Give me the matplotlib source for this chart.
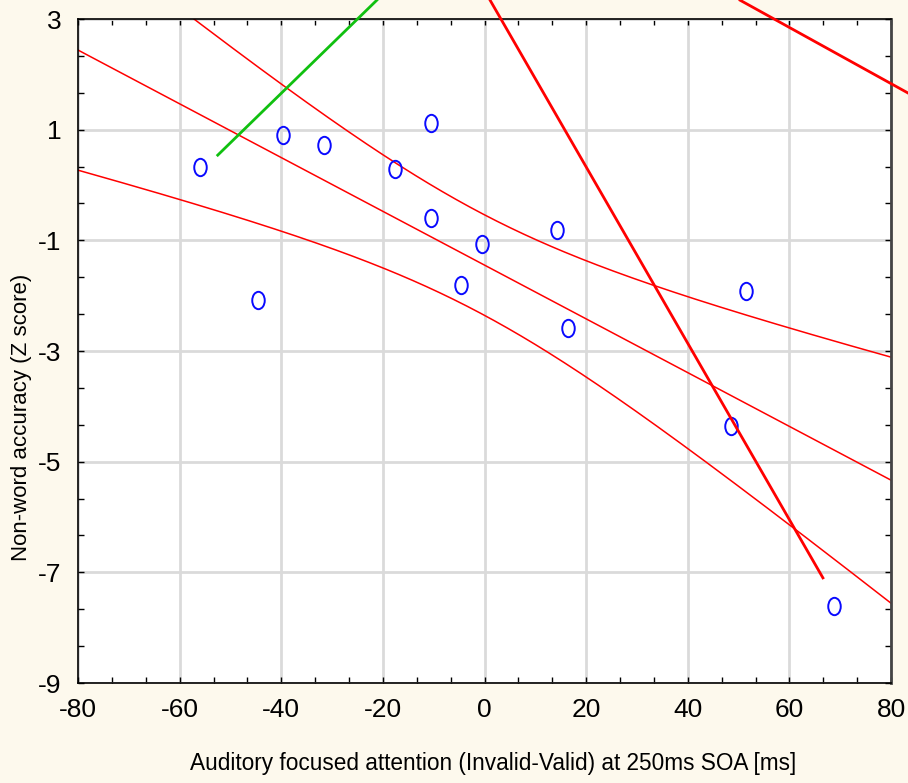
import numpy as np
import matplotlib
matplotlib.use("Agg")
import matplotlib.pyplot as plt
from matplotlib.path import Path
from matplotlib.transforms import Affine2D
from matplotlib.ticker import MultipleLocator, FixedLocator

plt.rcParams['font.family'] = ['Liberation Sans Narrow', 'Liberation Sans', 'DejaVu Sans']
plt.rcParams['axes.unicode_minus'] = False

# data
attention_ms = [-56, -44.6, -39.7, -31.6, -17.6, -10.5, -10.5, -4.6, -0.5, 14.3, 16.4, 48.5, 51.5, 68.8]
accuracy_z = [0.33, -2.08, 0.90, 0.72, 0.29, 1.12, -0.60, -1.81, -1.07, -0.81, -2.58, -4.36, -1.92, -7.61]
y_ticks = [-9, -7, -5, -3, -1, 1, 3]

# stray annotation strokes drawn over the chart (start, end)
green_stroke_x = [-52.5, -21.2]
green_stroke_y = [0.54, 3.34]
red_stroke_x = [1.1, 66.6]
red_stroke_y = [3.34, -7.10]
red_stroke2_x = [50.3, 83.4]
red_stroke2_y = [3.34, 1.66]

bg = '#fdf9ed'
x = np.array(attention_ms)
y = np.array(accuracy_z)

# linear fit with 95% confidence band
n = len(x)
slope, icpt = np.polyfit(x, y, 1)
resid = y - (slope * x + icpt)
s = np.sqrt(np.sum(resid ** 2) / (n - 2))
sxx = np.sum((x - x.mean()) ** 2)
t_crit = 2.179  # t(0.975, df=12)
xs = np.linspace(-80, 80, 300)
fit = slope * xs + icpt
half = t_crit * s * np.sqrt(1 / n + (xs - x.mean()) ** 2 / sxx)

fig = plt.figure(figsize=(9.08, 7.83), dpi=100, facecolor=bg)
ax = fig.add_axes([0.0859, 0.1277, 0.8954, 0.8480])
ax.set_facecolor('white')

ax.plot(xs, fit, color='red', lw=1.1)
ax.plot(xs, fit + half, color='red', lw=1.1)
ax.plot(xs, fit - half, color='red', lw=1.1)

# tall open "O" markers
oval = Path.unit_circle().transformed(Affine2D().scale(0.72, 1.0))
ax.plot(x, y, linestyle='none', marker=oval, markersize=12.5, markerfacecolor='none',
        markeredgecolor='#0a0aff', markeredgewidth=1.4, zorder=5)

ax.plot(green_stroke_x, green_stroke_y, color='#10c010', lw=2, clip_on=False, zorder=6)
ax.plot(red_stroke_x, red_stroke_y, color='red', lw=2, clip_on=False, zorder=6)
ax.plot(red_stroke2_x, red_stroke2_y, color='red', lw=2, clip_on=False, zorder=6)

ax.set_xlim(-80, 80)
ax.set_ylim(-9, 3)
ax.xaxis.set_major_locator(MultipleLocator(20))
ax.xaxis.set_minor_locator(MultipleLocator(20 / 3))
ax.yaxis.set_major_locator(FixedLocator(y_ticks))
ax.yaxis.set_minor_locator(FixedLocator(np.arange(-9, 3.01, 2 / 3)))
ax.grid(True, which='major', color='#dadada', lw=2)
ax.set_axisbelow(True)
ax.tick_params(which='both', direction='in', top=True, right=True, length=4, width=1,
               labelsize=19)
ax.tick_params(axis='x', pad=11)
ax.tick_params(axis='y', pad=12)
for sp in ax.spines.values():
    sp.set_color('black')
    sp.set_linewidth(1.2)
ax.spines['right'].set_color('#444444')
ax.spines['right'].set_linewidth(2)

ax.set_xlabel('Auditory focused attention (Invalid-Valid) at 250ms SOA [ms]', fontsize=16.3)
ax.xaxis.set_label_coords(0.51, -0.104)
ax.set_ylabel('Non-word accuracy (Z score)', fontsize=16)
ax.yaxis.set_label_coords(-0.057, 0.40)

fig.savefig('out.png', dpi=100, facecolor=bg)
